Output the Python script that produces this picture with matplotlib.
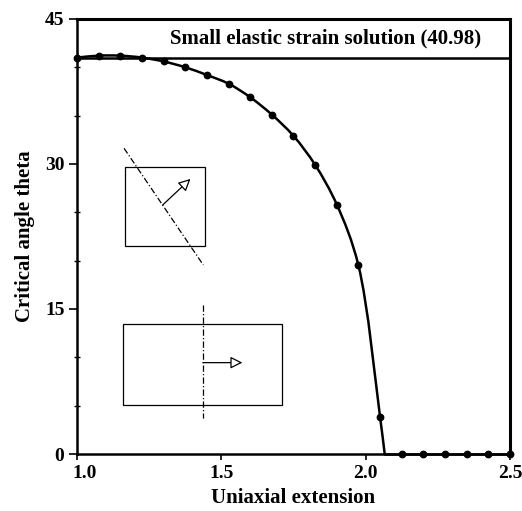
import matplotlib
matplotlib.use("Agg")
import matplotlib.pyplot as plt
import matplotlib.transforms as mtransforms
import numpy as np
from matplotlib.patches import Rectangle, FancyArrowPatch, PathPatch
from matplotlib.path import Path
from matplotlib.ticker import MultipleLocator

plt.rcParams['font.family'] = ['Liberation Serif', 'DejaVu Serif']
plt.rcParams['font.weight'] = 'bold'

# data
extension = [1.0, 1.075, 1.15, 1.225, 1.3, 1.375, 1.45, 1.525, 1.6, 1.675, 1.75,
             1.825, 1.9, 1.975, 2.05, 2.125, 2.2, 2.275, 2.35, 2.425, 2.5]
theta = [41.0, 41.2, 41.2, 41.0, 40.6, 40.0, 39.2, 38.3, 36.9, 35.1, 32.9,
         29.9, 25.8, 19.5, 3.8, 0.0, 0.0, 0.0, 0.0, 0.0, 0.0]
# where the drawn curve meets zero
zero_cross = 2.066
small_strain = 40.98
label_text = 'Small elastic strain solution (40.98)'

xticks = [1.0, 1.5, 2.0, 2.5]
yticks = [0, 15, 30, 45]

# curve: smooth part up to where it hits zero, then flat along the axis
smooth = [(x, y) for x, y in zip(extension, theta) if y > 0] + [(zero_cross, 0.0)]
flat = [(zero_cross, 0.0)] + [(x, y) for x, y in zip(extension, theta) if x > zero_cross]

fig = plt.figure(figsize=(5.22, 5.11), dpi=100)
ax = fig.add_axes([0.1475, 0.1115, 0.8295, 0.8515])

# centripetal catmull-rom -> bezier so matplotlib draws a smooth line
P = np.array(smooth)
scale = np.array([288.7, 9.667])  # rough px per unit, for the knot spacing
P = np.vstack([2 * P[0] - P[1], P, 2 * P[-1] - P[-2]])
t = np.concatenate([[0], np.cumsum(np.sqrt(np.linalg.norm(np.diff(P * scale, axis=0), axis=1)))])
verts = [tuple(P[1])]
codes = [Path.MOVETO]
for i in range(1, len(P) - 2):
    p0, p1, p2, p3 = P[i - 1], P[i], P[i + 1], P[i + 2]
    d0, d1, d2 = t[i] - t[i - 1], t[i + 1] - t[i], t[i + 2] - t[i + 1]
    m1 = (p1 - p0) / d0 - (p2 - p0) / (d0 + d1) + (p2 - p1) / d1
    m2 = (p2 - p1) / d1 - (p3 - p1) / (d1 + d2) + (p3 - p2) / d2
    verts += [tuple(p1 + m1 * d1 / 3), tuple(p2 - m2 * d1 / 3), tuple(p2)]
    codes += [Path.CURVE4] * 3
ax.add_patch(PathPatch(Path(verts, codes), fill=False, ec='black', lw=1.8, zorder=3))
ax.plot([p[0] for p in flat], [p[1] for p in flat], color='black', lw=1.8,
        zorder=3, clip_on=False)
ax.plot(extension, theta, 'o', color='black', ms=4.6, zorder=4, clip_on=False)

ax.axhline(small_strain, color='black', lw=1.8)
ax.text(1.862, (45 + small_strain) / 2, label_text, ha='center', va='center',
        fontsize=15, fontweight='bold')

# inset sketches
dashdot = (0, (5, 1.8, 1, 1.8))
arrow_style = '-|>,head_length=0.6,head_width=0.3'
ax.add_patch(Rectangle((1.166, 21.52), 0.277, 8.14, fill=False, lw=0.9, ec='black'))
ax.plot([1.163, 1.4375], [31.62, 19.55], color='black', lw=0.9, ls=dashdot)
ax.add_patch(FancyArrowPatch((1.297, 25.76), (1.393, 28.45), arrowstyle=arrow_style,
                             fc='white', ec='black', lw=0.9, mutation_scale=12,
                             shrinkA=0, shrinkB=0))

ax.add_patch(Rectangle((1.160, 5.07), 0.549, 8.35, fill=False, lw=0.9, ec='black'))
ax.plot([1.4355, 1.4355], [15.41, 3.69], color='black', lw=0.9, ls=dashdot)
ax.add_patch(FancyArrowPatch((1.436, 9.45), (1.573, 9.45), arrowstyle=arrow_style,
                             fc='white', ec='black', lw=0.9, mutation_scale=12,
                             shrinkA=0, shrinkB=0))

ax.set_xlim(1.0, 2.5)
ax.set_ylim(0, 45)
ax.set_xticks(xticks)
ax.set_xticklabels([f'{t:.1f}' for t in xticks])
ax.set_yticks(yticks)
ax.yaxis.set_minor_locator(MultipleLocator(5))
ax.tick_params(axis='y', which='major', direction='out', length=6, width=1.2,
               labelsize=14, pad=3)
ax.tick_params(axis='x', which='major', direction='out', length=4, width=1.2,
               labelsize=14, pad=4)
ax.tick_params(axis='y', which='minor', direction='inout', length=5, width=1)
for lab in ax.get_xticklabels() + ax.get_yticklabels():
    lab.set_fontweight('bold')
# first x label sits a little right of its tick in the original
first = ax.get_xticklabels()[0]
first.set_transform(first.get_transform() +
                    mtransforms.ScaledTranslation(8 / 100, 0, fig.dpi_scale_trans))

for side in ['left', 'bottom']:
    ax.spines[side].set_linewidth(1.8)
for side in ['top', 'right']:
    ax.spines[side].set_linewidth(2.2)

ax.set_xlabel('Uniaxial extension', fontsize=15, fontweight='bold', labelpad=4)
ax.set_ylabel('Critical angle theta', fontsize=15, fontweight='bold', labelpad=7)

fig.savefig('out.png', dpi=100)
